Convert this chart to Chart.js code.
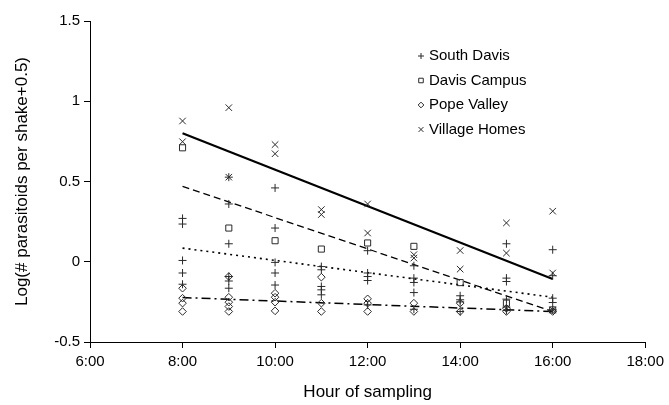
<!DOCTYPE html>
<html>
<head>
<meta charset="utf-8">
<script src="https://cdn.jsdelivr.net/npm/chart.js@4/dist/chart.umd.min.js"></script>
<style>
  html, body { margin: 0; padding: 0; background: #fff; }
  #wrap { width: 669px; height: 405px; }
</style>
</head>
<body>
<div id="wrap"><canvas id="c" width="669" height="405"></canvas></div>
<script>
// ---- Data (hour of sampling, log value) ----
const seriesNames = ['South Davis', 'Davis Campus', 'Pope Valley', 'Village Homes'];

const southDavis = [
  [8,0.27],[8,0.235],[8,0.008],[8,-0.07],[8,-0.14],
  [9,0.527],[9,0.36],[9,0.112],[9,-0.092],[9,-0.12],[9,-0.165],
  [10,0.46],[10,0.21],[10,-0.004],[10,-0.07],[10,-0.145],
  [11,-0.03],[11,-0.05],[11,-0.154],[11,-0.175],[11,-0.206],
  [12,0.069],[12,-0.07],[12,-0.092],[12,-0.117],[12,-0.269],
  [13,-0.025],[13,-0.102],[13,-0.129],[13,-0.192],[13,-0.296],
  [14,-0.212],[14,-0.237],[14,-0.25],[14,-0.31],
  [15,0.112],[15,-0.102],[15,-0.123],[15,-0.233],[15,-0.283],[15,-0.304],
  [16,0.075],[16,-0.087],[16,-0.227],[16,-0.254],[16,-0.3]
];
const davisCampus = [
  [8,0.71],[9,0.21],[10,0.131],[11,0.079],[12,0.117],
  [13,0.096],[14,-0.13],[15,-0.258],[16,-0.3]
];
const popeValley = [
  [8,-0.165],[8,-0.227],[8,-0.258],[8,-0.31],
  [9,-0.092],[9,-0.221],[9,-0.252],[9,-0.279],[9,-0.31],
  [10,-0.196],[10,-0.221],[10,-0.252],[10,-0.306],
  [11,-0.096],[11,-0.258],[11,-0.31],
  [12,-0.231],[12,-0.258],[12,-0.31],
  [13,-0.258],[13,-0.31],
  [14,-0.258],[14,-0.31],
  [15,-0.29],[15,-0.31],
  [16,-0.31]
];
const villageHomes = [
  [8,0.877],[8,0.748],[9,0.96],[9,0.527],[10,0.73],[10,0.673],
  [11,0.325],[11,0.294],[12,0.36],[12,0.179],[13,0.044],[13,0.023],
  [14,0.07],[14,-0.046],[15,0.242],[15,0.054],[16,0.315],[16,-0.07],[16,-0.3]
];

// Fitted trend lines (start and end at 8:00 and 16:00)
const trendHours = [8, 16];
const trendSouthDavis = [0.085, -0.221];
const trendDavisCampus = [0.47, -0.31];
const trendPopeValley = [-0.223, -0.31];
const trendVillageHomes = [0.80, -0.108];

const yTicks = [-0.5, 0, 0.5, 1, 1.5];
const xTicks = [6, 8, 10, 12, 14, 16, 18];
const xTitle = 'Hour of sampling';
const yTitle = 'Log(# parasitoids per shake+0.5)';

// ---- Build datasets ----
const toPts = rows => rows.map(r => ({x: r[0], y: r[1]}));
const trend = vals => trendHours.map((h, i) => ({x: h, y: vals[i]}));
const markColor = '#2a2a2a';

const scatterDefs = [
  {label: seriesNames[0], data: southDavis, style: 'cross', r: 4},
  {label: seriesNames[1], data: davisCampus, style: 'rect', r: 4.3},
  {label: seriesNames[2], data: popeValley, style: 'rectRot', r: 3.8},
  {label: seriesNames[3], data: villageHomes, style: 'crossRot', r: 4.6}
];
const datasets = scatterDefs.map(d => ({
  type: 'scatter',
  label: d.label,
  data: toPts(d.data),
  pointStyle: d.style,
  pointRadius: d.r,
  pointHoverRadius: d.r,
  pointBorderWidth: 1,
  borderColor: markColor,
  backgroundColor: 'rgba(255,255,255,0)',
  isMarker: true
}));
const trendDefs = [
  {data: trendVillageHomes, dash: [], w: 2.2},
  {data: trendDavisCampus, dash: [7, 4], w: 1.3},
  {data: trendSouthDavis, dash: [2, 4], w: 1.6},
  {data: trendPopeValley, dash: [9, 4, 2, 4], w: 1.5}
];
trendDefs.forEach(t => datasets.push({
  type: 'line',
  label: '',
  data: trend(t.data),
  borderColor: '#000',
  borderWidth: t.w,
  borderDash: t.dash,
  pointRadius: 0,
  fill: false,
  tension: 0
}));

// ---- In-plot legend drawn with Chart.js point helper ----
const insideLegend = {
  id: 'insideLegend',
  afterDraw(chart) {
    const ctx = chart.ctx;
    const x0 = 421, textX = 429, y0 = 56, dy = 24.5;
    ctx.save();
    ctx.font = '15px "Liberation Sans", Arial, sans-serif';
    ctx.textBaseline = 'middle';
    ctx.textAlign = 'left';
    chart.data.datasets.filter(d => d.isMarker).forEach((d, i) => {
      const y = y0 + i * dy;
      ctx.strokeStyle = markColor;
      ctx.fillStyle = 'rgba(255,255,255,0)';
      ctx.lineWidth = 1;
      Chart.helpers.drawPoint(ctx, {pointStyle: d.pointStyle, radius: d.pointRadius * 0.75, borderWidth: 1}, x0, y);
      ctx.fillStyle = '#000';
      ctx.fillText(d.label, textX, y);
    });
    ctx.restore();
  }
};

const tickFont = {family: '"Liberation Sans", Arial, sans-serif', size: 15};
const titleFont = {family: '"Liberation Sans", Arial, sans-serif', size: 17};

new Chart(document.getElementById('c'), {
  data: {datasets},
  options: {
    responsive: false,
    animation: false,
    events: [],
    layout: {padding: {top: 21, right: 20, bottom: 0, left: 0}},
    plugins: {legend: {display: false}, tooltip: {enabled: false}},
    scales: {
      x: {
        type: 'linear',
        min: 6, max: 18,
        afterBuildTicks: s => { s.ticks = xTicks.map(v => ({value: v})); },
        afterFit: s => { s.height = 63; },
        ticks: {
          color: '#000', font: tickFont, padding: 5, maxRotation: 0,
          callback: v => v + ':00'
        },
        grid: {drawOnChartArea: false, drawTicks: true, tickLength: 6, color: '#000'},
        border: {display: true, color: '#000', width: 1},
        title: {display: true, text: xTitle, color: '#000', font: titleFont, padding: {top: 1, bottom: 2}}
      },
      y: {
        type: 'linear',
        min: -0.5, max: 1.5,
        afterBuildTicks: s => { s.ticks = yTicks.map(v => ({value: v})); },
        afterFit: s => { s.width = 90; },
        ticks: {color: '#000', font: tickFont, padding: 4, callback: v => String(v)},
        grid: {drawOnChartArea: false, drawTicks: true, tickLength: 6, color: '#000'},
        border: {display: true, color: '#000', width: 1},
        title: {display: true, text: yTitle, color: '#000', font: titleFont, padding: {top: 12, bottom: 2}}
      }
    }
  },
  plugins: [insideLegend]
});
</script>
</body>
</html>
